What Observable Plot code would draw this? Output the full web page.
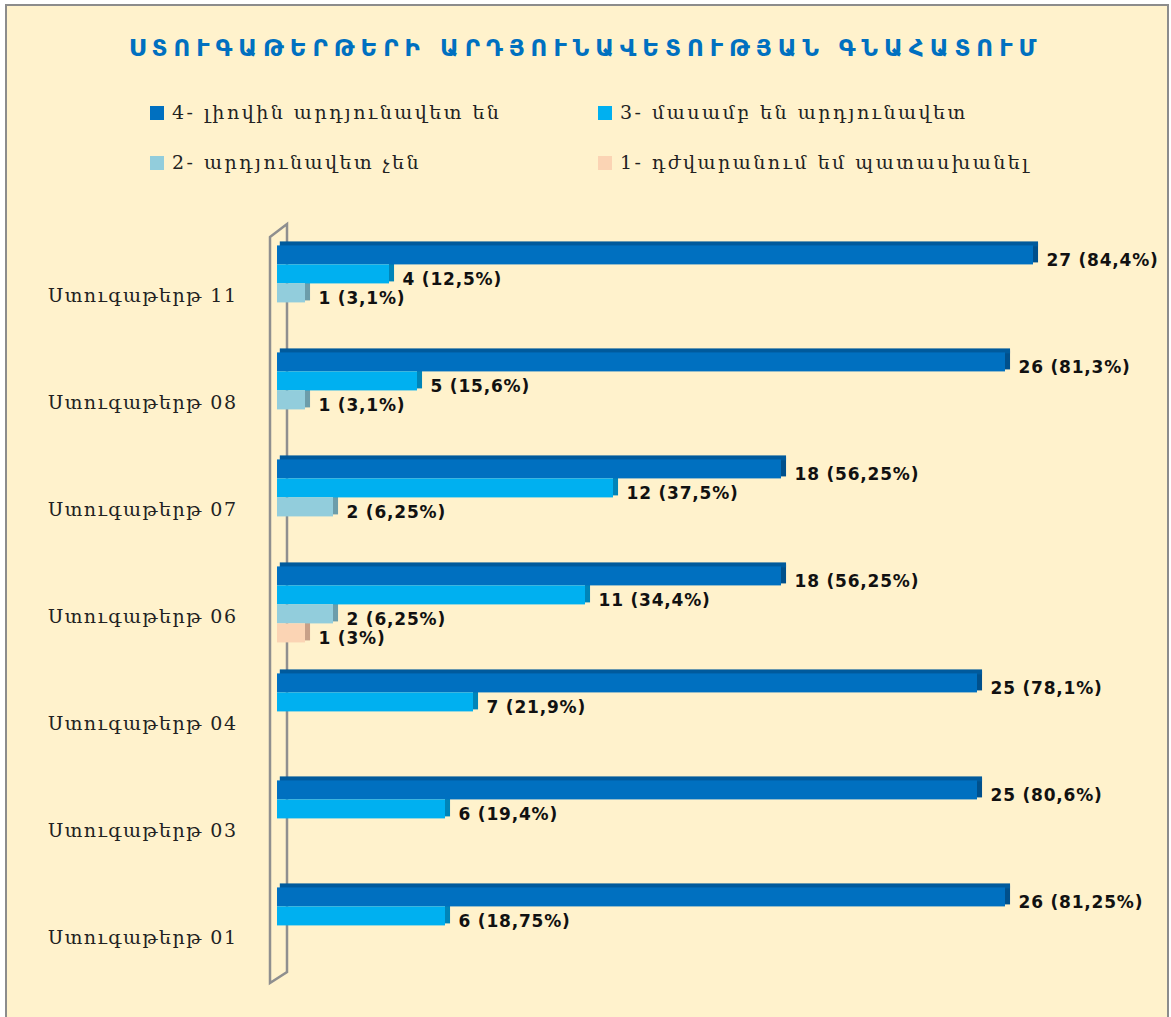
<!DOCTYPE html>
<html>
<head>
<meta charset="utf-8">
<script src="https://cdn.jsdelivr.net/npm/d3@7"></script>
<script src="https://cdn.jsdelivr.net/npm/@observablehq/plot@0.6"></script>
<style>
  html, body { margin: 0; padding: 0; background: #ffffff; }
  #page { position: relative; width: 1171px; height: 1017px; overflow: hidden; background: #ffffff; }
  #frame { position: absolute; left: 5px; top: 4px; width: 1160px; height: 1030px; background: #FFF2CC; border: 2px solid #8c8c8c; }
  #title { position: absolute; left: 0; width: 1171px; top: 35px; text-align: center; font-family: "DejaVu Sans", sans-serif; font-weight: bold; font-size: 23px; letter-spacing: 6px; color: #0070C0; }
  .leg { position: absolute; font-family: "DejaVu Serif", serif; font-size: 19px; color: #222; white-space: nowrap; letter-spacing: 2.5px; }
  .leg span.sw { display: inline-block; width: 14px; height: 14px; margin-right: 8px; vertical-align: -1px; }
  #chart { position: absolute; left: 0; top: 200px; }
  #chart svg g[aria-label="fy-axis"] text, #chart svg g[aria-label="fy-axis tick label"] text { letter-spacing: 1.5px; }
</style>
</head>
<body>
<div id="page">
  <div id="frame"></div>
  <div id="title"></div>
  <div id="legend"></div>
  <div id="chart"></div>
</div>
<script>
// ---- data ----
const titleText = "ՍՏՈՒԳԱԹԵՐԹԵՐԻ ԱՐԴՅՈՒՆԱՎԵՏՈՒԹՅԱՆ ԳՆԱՀԱՏՈՒՄ";
const sheets = ["Ստուգաթերթ 11", "Ստուգաթերթ 08", "Ստուգաթերթ 07", "Ստուգաթերթ 06", "Ստուգաթերթ 04", "Ստուգաթերթ 03", "Ստուգաթերթ 01"];
const levels = ["4", "3", "2", "1"];
const levelNames = ["4- լիովին արդյունավետ են", "3- մասամբ են արդյունավետ", "2- արդյունավետ չեն", "1- դժվարանում եմ պատասխանել"];
const levelColors = ["#0070C0", "#00B0F0", "#92CDDC", "#FBD4B4"];
const sideColors = ["#00508C", "#0084B8", "#6C9DAA", "#C8A088"];
const level4 = [27, 26, 18, 18, 25, 25, 26];
const level3 = [4, 5, 12, 11, 7, 6, 6];
const level2 = [1, 1, 2, 2, 0, 0, 0];
const level1 = [0, 0, 0, 1, 0, 0, 0];
const pct4 = ["84,4", "81,3", "56,25", "56,25", "78,1", "80,6", "81,25"];
const pct3 = ["12,5", "15,6", "37,5", "34,4", "21,9", "19,4", "18,75"];
const pct2 = ["3,1", "3,1", "6,25", "6,25", "", "", ""];
const pct1 = ["", "", "", "3", "", "", ""];

// ---- build table ----
const series = [[level4, pct4], [level3, pct3], [level2, pct2], [level1, pct1]];
const rows = [];
sheets.forEach((s, i) => {
  series.forEach(([vals, pcts], j) => {
    if (vals[i] > 0) rows.push({sheet: s, level: levels[j], value: vals[i], label: `${vals[i]} (${pcts[i]}%)`});
  });
});

// ---- title + legend ----
document.getElementById("title").textContent = titleText;
const legPos = [[150, 101], [598, 101], [150, 151], [598, 151]];
const legend = document.getElementById("legend");
levelNames.forEach((n, i) => {
  const d = document.createElement("div");
  d.className = "leg";
  d.style.left = legPos[i][0] + "px";
  d.style.top = legPos[i][1] + "px";
  d.innerHTML = `<span class="sw" style="background:${levelColors[i]}"></span>`;
  d.appendChild(document.createTextNode(n));
  legend.appendChild(d);
});

// ---- chart ----
const colorScale = {domain: levels, range: levelColors};
const plot = Plot.plot({
  width: 1171,
  height: 800,
  marginLeft: 277,
  marginRight: 54,
  marginTop: 42,
  marginBottom: 9,
  style: {background: "transparent", fontFamily: "DejaVu Serif, serif", fontSize: "19px", color: "#222", overflow: "visible"},
  facet: {data: rows, y: "sheet"},
  fy: {domain: sheets, padding: 0, round: false, axis: "left", label: null, tickSize: 0, tickPadding: 40},
  y: {domain: levels, paddingInner: 0, paddingOuter: 0.816, align: 0.11, axis: null, round: false},
  x: {domain: [0, 30], axis: null},
  color: colorScale,
  marks: [
    // right side faces
    Plot.barX(rows, {x1: "value", x2: d => d.value + 0.18, y: "level", fill: d => sideColors[levels.indexOf(d.level)], dy: -2}),
    // top faces of the top bars
    Plot.barX(rows, {filter: d => d.level === "4", x1: 0.1, x2: d => d.value + 0.18, y: "level", fill: "#005A9C", insetBottom: 14, dy: -4}),
    // front faces
    Plot.barX(rows, {x1: 0, x2: "value", y: "level", fill: "level"}),
    // labels
    Plot.text(rows, {x: "value", y: "level", text: "label", dx: 13, dy: 5, textAnchor: "start", fontFamily: "DejaVu Sans, sans-serif", fontWeight: "bold", fontSize: 17, fill: "#111"})
  ]
});
document.getElementById("chart").appendChild(plot);

// 3D wall outline next to the category axis
const svg = d3.select(plot);
const x0 = plot.scale("x").apply(0);
svg.insert("path", ":first-child")
  .attr("d", `M${x0 - 7},${37} L${x0 + 10},${24} L${x0 + 10},${772} L${x0 - 7},${783} Z`)
  .attr("fill", "none")
  .attr("stroke", "#8f8f8f")
  .attr("stroke-width", 2.5);
svg.selectAll("text").filter(function() { return this.closest("[aria-label^='fy-axis']"); }).style("letter-spacing", "1.5px");
svg.selectAll("g[aria-label='text'] text").style("letter-spacing", "0.8px");
</script>
</body>
</html>
